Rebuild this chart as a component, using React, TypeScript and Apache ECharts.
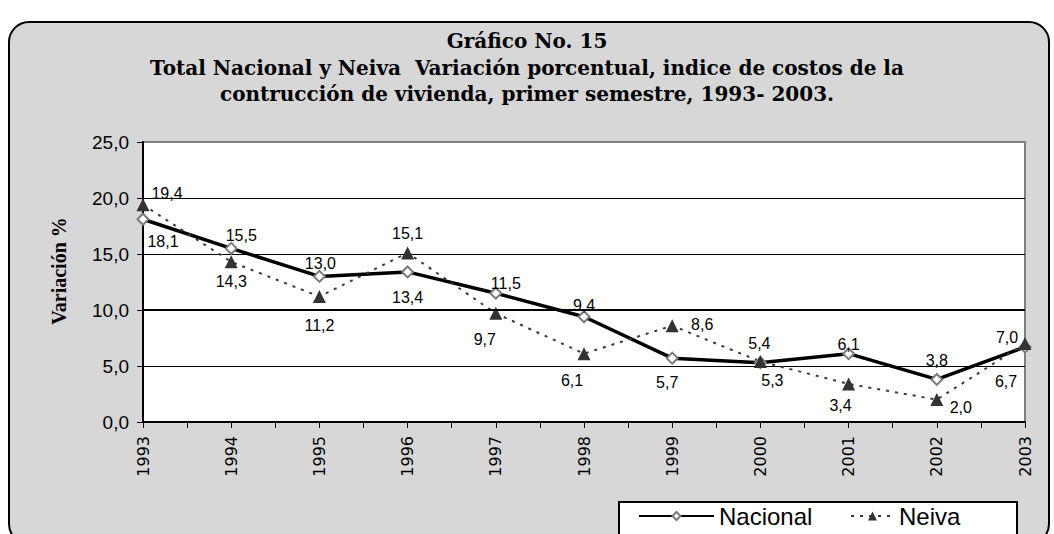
import React, { useEffect, useRef } from "react";
import * as echarts from "echarts";

const years = [1993, 1994, 1995, 1996, 1997, 1998, 1999, 2000, 2001, 2002, 2003];
const nacional = [18.1, 15.5, 13.0, 13.4, 11.5, 9.4, 5.7, 5.3, 6.1, 3.8, 6.7];
const neiva = [19.4, 14.3, 11.2, 15.1, 9.7, 6.1, 8.6, 5.4, 3.4, 2.0, 7.0];

const titleLines = [
  "Gráfico No. 15",
  "Total Nacional y Neiva  Variación porcentual, indice de costos de la",
  "contrucción de vivienda, primer semestre, 1993- 2003.",
];
const yAxisName = "Variación %";
const seriesNames = ["Nacional", "Neiva"];

// label placement (pixel offsets from each point)
const nacionalLabelOffsets = [[20, 22], [10, -13], [1, -13], [0, 26], [10, -10], [0, -11], [-5, 24], [12, 18], [0, -9], [0, -19], [-19, 35]];
const neivaLabelOffsets = [[24, -11], [0, 20], [0, 29], [0, -19], [-11, 26], [-12, 27], [30, -1], [-1, -18], [-8, 22], [24, 8], [-18, -6]];

const fmt = (v: number) => v.toFixed(1).replace(".", ",");

export default function App() {
  const ref = useRef<HTMLDivElement>(null);
  useEffect(() => {
    if (!ref.current) return;
    const chart = echarts.init(ref.current, null, { renderer: "svg" });
    const mk = (vals: number[], offs: number[][]) =>
      vals.map((v, i) => ({
        value: [years[i], v],
        label: { offset: offs[i] },
      }));
    const labelBase = {
      show: true,
      position: "inside",
      color: "#000",
      fontSize: 16,
      fontFamily: "Liberation Sans, Arial, sans-serif",
      formatter: (p: any) => fmt(p.value[1]),
    };
    chart.setOption({
      animation: false,
      textStyle: { fontFamily: "Liberation Sans, Arial, sans-serif" },
      title: titleLines.map((t, i) => ({
        text: t,
        left: "center",
        top: 31 + i * 26.5,
        padding: 0,
        textStyle: {
          fontFamily: "DejaVu Serif, serif",
          fontWeight: "bold",
          fontSize: 20,
          color: "#000",
        },
      })),
      graphic: [
        {
          type: "rect",
          z: -10,
          silent: true,
          shape: { x: 9, y: 22, width: 1040, height: 522, r: 20 },
          style: { fill: "#d7d7d7", stroke: "#000", lineWidth: 2 },
        },
        {
          type: "rect",
          z: 3,
          silent: true,
          shape: { x: 619, y: 502, width: 398, height: 40 },
          style: { fill: "#fff", stroke: "#000", lineWidth: 2 },
        },
      ],
      legend: [
        {
          data: [seriesNames[0]],
          left: 638,
          top: 504,
          padding: 0,
          itemWidth: 75,
          itemHeight: 10,
          textStyle: { fontSize: 24, color: "#000", fontFamily: "Liberation Sans, Arial, sans-serif" },
        },
        {
          data: [seriesNames[1]],
          left: 850,
          top: 504,
          padding: 0,
          itemWidth: 43,
          itemHeight: 11,
          textStyle: { fontSize: 24, color: "#000", fontFamily: "Liberation Sans, Arial, sans-serif" },
        },
      ],
      grid: {
        left: 143,
        right: 29,
        top: 142,
        bottom: 112,
        show: true,
        backgroundColor: "#fff",
        borderColor: "#808080",
        borderWidth: 2,
      },
      xAxis: {
        type: "value",
        min: 1993,
        max: 2003,
        interval: 1,
        axisLine: { show: true, lineStyle: { color: "#000", width: 2 } },
        axisTick: { show: true, length: 6, lineStyle: { color: "#000", width: 1 } },
        minorTick: { show: true, splitNumber: 2, length: 6, lineStyle: { color: "#000", width: 1 } },
        splitLine: { show: false },
        axisLabel: {
          rotate: 90,
          margin: 14,
          color: "#000",
          fontSize: 16,
          fontFamily: "DejaVu Sans, sans-serif",
          formatter: (v: number) => String(v),
        },
      },
      yAxis: {
        type: "value",
        min: 0,
        max: 25,
        interval: 5,
        name: yAxisName,
        nameLocation: "middle",
        nameRotate: 90,
        nameGap: 74,
        nameTextStyle: {
          fontFamily: "Liberation Serif, serif",
          fontWeight: "bold",
          fontSize: 20,
          color: "#000",
          padding: [0, 0, 0, 22],
        },
        axisLine: { show: true, lineStyle: { color: "#000", width: 2 } },
        axisTick: { show: true, length: 6, lineStyle: { color: "#000", width: 1 } },
        splitLine: {
          show: true,
          lineStyle: { color: ["#000", "#000", "#000", "#000", "#000", "#808080"], width: 1 },
        },
        axisLabel: {
          margin: 14,
          color: "#000",
          fontSize: 19,
          fontFamily: "Liberation Sans, Arial, sans-serif",
          formatter: (v: number) => fmt(v),
        },
      },
      series: [
        {
          name: seriesNames[0],
          type: "line",
          data: mk(nacional, nacionalLabelOffsets),
          symbol: "diamond",
          symbolSize: 11,
          lineStyle: { color: "#000", width: 3.5 },
          itemStyle: { color: "#fff", borderColor: "#7a7a7a", borderWidth: 2 },
          label: labelBase,
          markLine: {
            silent: true,
            symbol: "none",
            label: { show: false },
            lineStyle: { color: "#000", width: 2, type: "solid" },
            data: [{ yAxis: 10 }],
          },
        },
        {
          name: seriesNames[1],
          type: "line",
          data: mk(neiva, neivaLabelOffsets),
          symbol: "triangle",
          symbolSize: 13,
          lineStyle: { color: "#3a3a3a", width: 2, type: [3, 6] },
          itemStyle: { color: "#333" },
          label: labelBase,
        },
      ],
    });
    return () => chart.dispose();
  }, []);
  return (
    <div
      ref={ref}
      style={{ position: "fixed", left: 0, top: 0, width: 1054, height: 534, background: "#fff" }}
    />
  );
}
